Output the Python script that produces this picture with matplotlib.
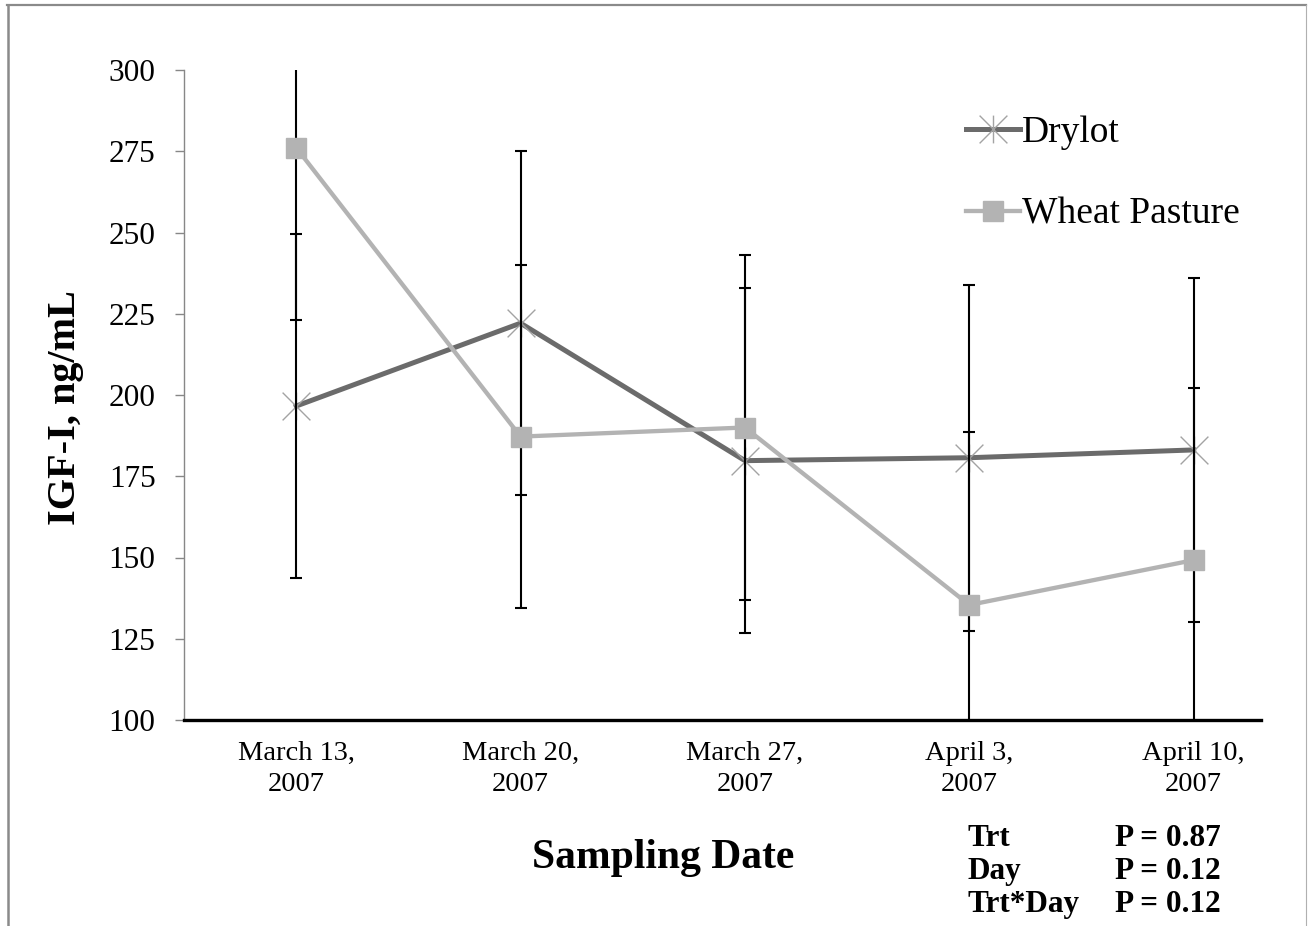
import numpy as np
import matplotlib.pyplot as plt
from matplotlib.path import Path
from matplotlib.lines import Line2D

plt.rcParams['font.family'] = ['Liberation Serif', 'DejaVu Serif']

# IGF-I means and SE by sampling date
dates = ['March 13,\n2007', 'March 20,\n2007', 'March 27,\n2007',
         'April 3,\n2007', 'April 10,\n2007']
drylot = [196.6, 222.1, 179.8, 180.7, 183.1]
drylot_se = [53.0, 53.0, 53.1, 53.3, 53.0]
wheat = [276.1, 187.2, 190.0, 135.4, 149.2]
wheat_se = [53.0, 52.8, 53.2, 53.3, 52.9]

stat_terms = ['Trt', 'Day', 'Trt*Day']
stat_p = ['P = 0.87', 'P = 0.12', 'P = 0.12']

W, H = 1313, 926
fig = plt.figure(figsize=(W / 100, H / 100), dpi=100)
ax = fig.add_axes([184 / W, 1 - 720 / H, 1077 / W, 650 / H])

x = np.arange(len(dates))

# asterisk marker (x plus vertical bar), like the excel "star"
star = Path([(-1, -1), (1, 1), (-1, 1), (1, -1), (0, -1), (0, 1)],
            [Path.MOVETO, Path.LINETO] * 3)

ax.plot(x, drylot, color='#6b6b6b', lw=3.6, marker=star, ms=20,
        mec='#a3a3a3', mfc='none', mew=1.0, zorder=2, label='Drylot')
ax.errorbar(x, drylot, yerr=drylot_se, fmt='none', ecolor='black',
            elinewidth=1.5, capsize=4.3, capthick=1.5, zorder=3)
ax.errorbar(x, wheat, yerr=wheat_se, fmt='none', ecolor='black',
            elinewidth=1.5, capsize=4.3, capthick=1.5, zorder=3)
ax.plot(x, wheat, color='#b3b3b3', lw=3.1, marker='s', ms=14,
        mfc='#b3b3b3', mec='#b3b3b3', zorder=4, label='Wheat Pasture')

ax.set_xlim(-0.5, 4.3)
ax.set_ylim(100, 300)
ax.set_yticks(np.arange(100, 301, 25))
ax.set_xticks(x)
ax.set_xticklabels(dates, linespacing=1.35)

for s in ['top', 'right']:
    ax.spines[s].set_visible(False)
ax.spines['left'].set_color('#878787')
ax.spines['left'].set_linewidth(1.0)
ax.spines['bottom'].set_color('black')
ax.spines['bottom'].set_linewidth(2.4)

ax.tick_params(axis='y', direction='out', length=6.5, width=1,
               color='#878787', labelsize=22.5, pad=14)
ax.tick_params(axis='x', length=0, labelsize=20.5, pad=15)

leg = ax.legend(loc='upper left', bbox_to_anchor=(966 / W, 1 - 116 / H),
                bbox_transform=fig.transFigure, frameon=False,
                prop={'size': 27}, handlelength=1.44, handletextpad=0.05,
                labelspacing=1.25, borderpad=0, borderaxespad=0)

fig.text(65 / W, 1 - 408 / H, 'IGF-I, ng/mL', rotation=90, fontsize=29,
         fontweight='bold', ha='center', va='center')
fig.text(663 / W, 1 - 868 / H, 'Sampling Date', fontsize=30,
         fontweight='bold', ha='center', va='baseline')

for i, (term, p) in enumerate(zip(stat_terms, stat_p)):
    yy = 1 - (846 + 33 * i) / H
    fig.text(967 / W, yy, term, fontsize=22.5, fontweight='bold', va='baseline')
    fig.text(1115 / W, yy, p, fontsize=22.5, fontweight='bold', va='baseline')

# outer chart frame
fig.add_artist(Line2D([7.5 / W, 7.5 / W], [0, 1 - 5 / H], transform=fig.transFigure,
                      color='#8a8a8a', lw=1.8))
fig.add_artist(Line2D([7 / W, 1306 / W], [1 - 5 / H, 1 - 5 / H], transform=fig.transFigure,
                      color='#8a8a8a', lw=1.6))
fig.add_artist(Line2D([1306 / W, 1306 / W], [0, 1 - 5 / H], transform=fig.transFigure,
                      color='#b0b0b0', lw=0.8))

fig.savefig('out.png', dpi=100)
